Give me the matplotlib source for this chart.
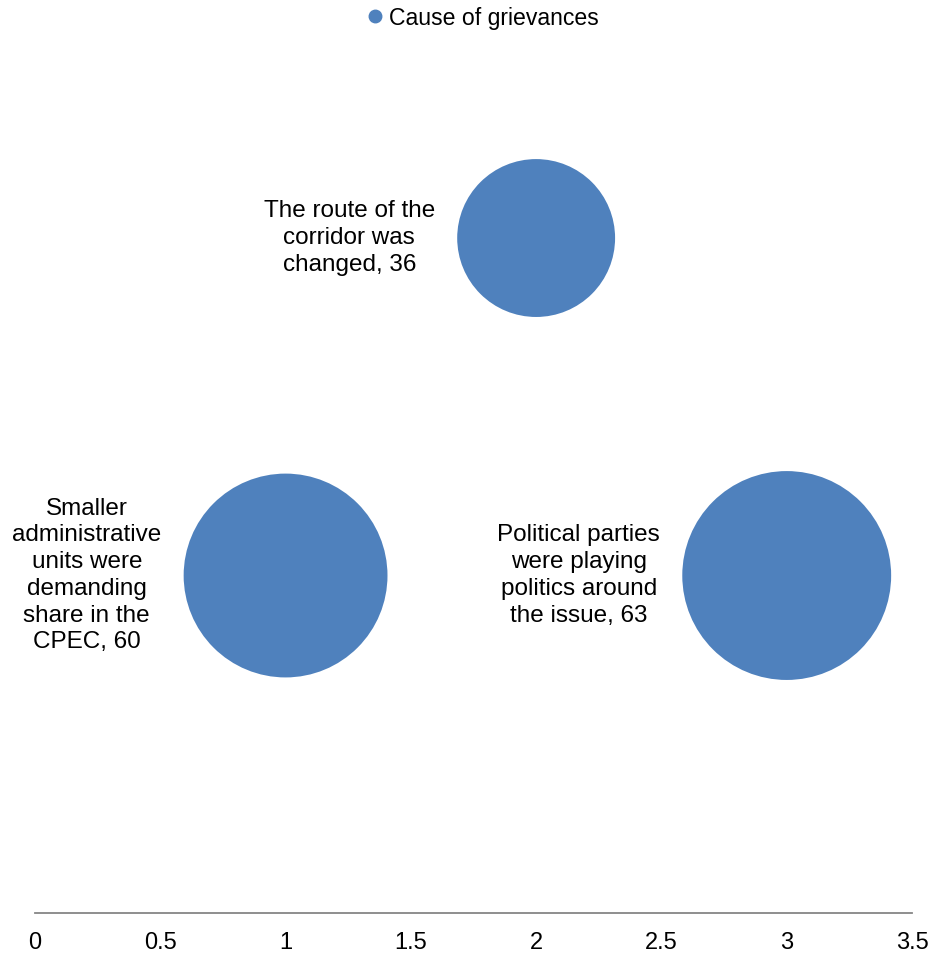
import numpy as np
import matplotlib.pyplot as plt

# bubble chart: cause of grievances
categories = [
    "Smaller\nadministrative\nunits were\ndemanding\nshare in the\nCPEC, 60",
    "The route of the\ncorridor was\nchanged, 36",
    "Political parties\nwere playing\npolitics around\nthe issue, 63",
]
x_vals = [1, 2, 3]
y_vals = [1, 2, 1]
sizes = [60, 36, 63]
xticks = [0, 0.5, 1, 1.5, 2, 2.5, 3, 3.5]
xtick_labels = ["0", "0.5", "1", "1.5", "2", "2.5", "3", "3.5"]

plt.rcParams['font.family'] = ['Liberation Sans', 'DejaVu Sans']

bubble_color = '#4F81BD'
scale = 359  # points^2 per unit of size (area proportional to value)

fig = plt.figure(figsize=(9.38, 9.57), dpi=100)
ax = fig.add_axes([35 / 938, 44 / 957, 877 / 938, 0.9276 - 44 / 957])

s = np.array(sizes) * scale
ax.scatter(x_vals, y_vals, s=s, color=bubble_color, linewidths=0,
           clip_on=False, label='Cause of grievances', zorder=2)

# labels to the left of each bubble
for xv, yv, sz, lab in zip(x_vals, y_vals, s, categories):
    r_pt = np.sqrt(sz) / 2
    ax.annotate(lab, (xv, yv), xytext=(-(r_pt + 16), 0),
                textcoords='offset points', ha='right', va='center',
                multialignment='center', fontsize=17.5, linespacing=1.28,
                color='black')

ax.set_xlim(0, 3.5)
ax.set_ylim(0, 2.5)
ax.set_xticks(xticks)
ax.set_xticklabels(xtick_labels, fontsize=17)
ax.tick_params(axis='x', length=0, pad=14)
ax.set_yticks([])
for side in ['left', 'right', 'top']:
    ax.spines[side].set_visible(False)
ax.spines['bottom'].set_color('#868686')
ax.spines['bottom'].set_linewidth(1.3)

fig.legend(handles=[plt.Line2D([], [], marker='o', linestyle='none',
                               markersize=9, color=bubble_color)],
           labels=['Cause of grievances'], loc='center',
           bbox_to_anchor=(481 / 938, 1 - 18 / 957), frameon=False,
           fontsize=16.6, handletextpad=0.1, handlelength=1.0)

plt.savefig('out.png', dpi=100)
